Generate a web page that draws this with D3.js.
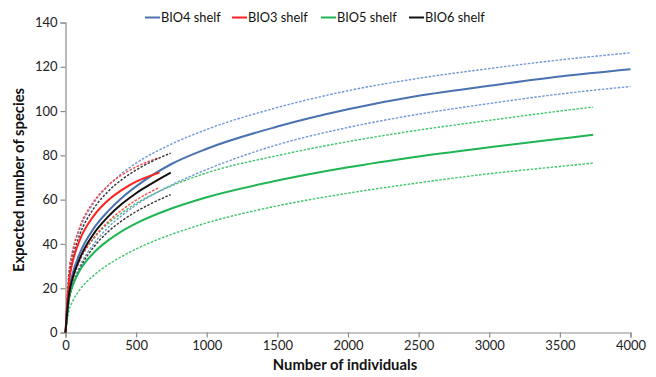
<!DOCTYPE html>
<html><head><meta charset="utf-8">
<script src="https://cdn.jsdelivr.net/npm/d3@7"></script>
<style>
html,body{margin:0;padding:0;background:#fff;}
svg{display:block;font-family:Lato,"Open Sans",sans-serif;}
</style></head>
<body><svg id="chart" width="656" height="377"></svg>
<script>
// ---- data ----
const xTicks = [0,500,1000,1500,2000,2500,3000,3500,4000];
const yTicks = [0,20,40,60,80,100,120,140];

const xBIO4 = [0,10,25,50,100,200,300,400,500,750,1000,1500,2000,2500,3000,3500,4000];
const bio4Mean  = [0,8.5,18.7,26.4,35.6,47,54.7,60.9,66,76.1,83,93,100.8,106.9,111.4,115.6,118.9];
const bio4Upper = [0,12,27.1,36.3,46.5,58.5,66.1,71.9,76.5,85.1,91.7,101.6,109.2,114.8,119.2,123.1,126.3];
const bio4Lower = [0,6.5,15.1,21.6,29.7,40,47.3,52.9,57.6,66.6,73.6,84.8,92.6,98.6,103.4,107.7,111.1];

const xBIO3 = [0,10,25,50,100,200,300,400,500,665];
const bio3Mean  = [0,11,23.1,31.8,41.6,52.7,59.6,64.4,68.1,72.2];
const bio3Upper = [0,13,27.1,36.7,47.4,59.2,66.3,71.2,74.8,79];
const bio3Lower = [0,7.5,16.7,23.6,32.2,42.8,49.9,55.4,59.8,65.5];

const xBIO5 = [0,10,25,50,100,200,300,400,500,750,1000,1500,2000,2500,3000,3500,3736];
const bio5Mean  = [0,6.5,15.4,21.1,27.9,36,41.5,45.8,49.3,56,61.1,68.6,74.6,79.5,83.7,87.5,89.3];
const bio5Upper = [0,8,17.5,24.4,32.6,42.4,49.1,54.1,58.3,66.2,72.1,79.9,86.2,91.4,95.8,100,101.8];
const bio5Lower = [0,4.5,9.9,14,19.2,25.8,30.6,34.4,37.7,44.3,49.5,57.2,62.9,67.6,71.7,75,76.5];

const xBIO6 = [0,10,25,50,100,200,300,400,500,600,745];
const bio6Mean  = [0,8,17.2,24.4,33.3,44.6,52.2,58.1,62.9,66.9,72.2];
const bio6Upper = [0,11.5,24.6,33.6,44,56,63.6,69.1,73.4,76.9,81];
const bio6Lower = [0,6.5,14.5,20.8,28.6,38.6,45.4,50.5,54.6,58,62.3];

const seriesNames = ["BIO4 shelf","BIO3 shelf","BIO5 shelf","BIO6 shelf"];
const seriesColors = ["#4a72b0","#ff2020","#1fb552","#111111"];
const ciColors = ["#6f97d6","#ff4040","#3cc46a","#333333"];

const series = [
  {name:seriesNames[0], x:xBIO4, mean:bio4Mean, up:bio4Upper, lo:bio4Lower, c:seriesColors[0], cc:ciColors[0]},
  {name:seriesNames[1], x:xBIO3, mean:bio3Mean, up:bio3Upper, lo:bio3Lower, c:seriesColors[1], cc:ciColors[1]},
  {name:seriesNames[2], x:xBIO5, mean:bio5Mean, up:bio5Upper, lo:bio5Lower, c:seriesColors[2], cc:ciColors[2]},
  {name:seriesNames[3], x:xBIO6, mean:bio6Mean, up:bio6Upper, lo:bio6Lower, c:seriesColors[3], cc:ciColors[3]}
];
const drawOrder = [2,0,1,3];

// ---- chart ----
const svg = d3.select("#chart");
const x = d3.scaleLinear().domain([0,4000]).range([65.5,630.5]);
const y = d3.scaleLinear().domain([0,140]).range([332.5,22.5]);

const axisColor = "#8c8c8c";
const xAxis = svg.append("g").attr("transform","translate(0,332.5)")
  .call(d3.axisBottom(x).tickValues(xTicks).tickSize(5).tickPadding(3).tickFormat(d3.format("d")));
const yAxis = svg.append("g").attr("transform","translate(65.5,0)")
  .call(d3.axisLeft(y).tickValues(yTicks).tickSize(5).tickPadding(3));
[xAxis,yAxis].forEach(g=>{
  g.selectAll("path,line").attr("stroke",axisColor).attr("stroke-width",1.2);
  g.selectAll("text").attr("fill","#222").attr("font-size",13).attr("font-family","Lato,'Open Sans',sans-serif");
});

const line = (xs, ys) => d3.line().x((d,i)=>x(xs[i])).y(d=>y(d)).curve(d3.curveMonotoneX)(ys);

const plot = svg.append("g");
drawOrder.forEach(k=>{
  const s = series[k];
  [s.up, s.lo].forEach(arr=>{
    plot.append("path").attr("d", line(s.x, arr)).attr("fill","none")
      .attr("stroke", s.cc).attr("stroke-width",1.4).attr("stroke-dasharray","2.5,1.5");
  });
});
drawOrder.forEach(k=>{
  const s = series[k];
  plot.append("path").attr("d", line(s.x, s.mean)).attr("fill","none")
    .attr("stroke", s.c).attr("stroke-width",2);
});

// legend
const legendX = [145,232,321,409];
const lg = svg.append("g");
series.forEach((s,i)=>{
  lg.append("line").attr("x1",legendX[i]).attr("x2",legendX[i]+15).attr("y1",17.5).attr("y2",17.5)
    .attr("stroke",s.c).attr("stroke-width",2);
  lg.append("text").attr("x",legendX[i]+16).attr("y",22).attr("font-size",12.8)
    .attr("fill","#111").text(s.name);
});

// axis titles
svg.append("text").attr("x",345).attr("y",370).attr("text-anchor","middle")
  .attr("font-size",14.8).attr("font-weight","bold").attr("fill","#111").text("Number of individuals");
svg.append("text").attr("transform","translate(24,180) rotate(-90)").attr("text-anchor","middle")
  .attr("font-size",14.8).attr("font-weight","bold").attr("fill","#111").text("Expected number of species");
</script></body></html>
